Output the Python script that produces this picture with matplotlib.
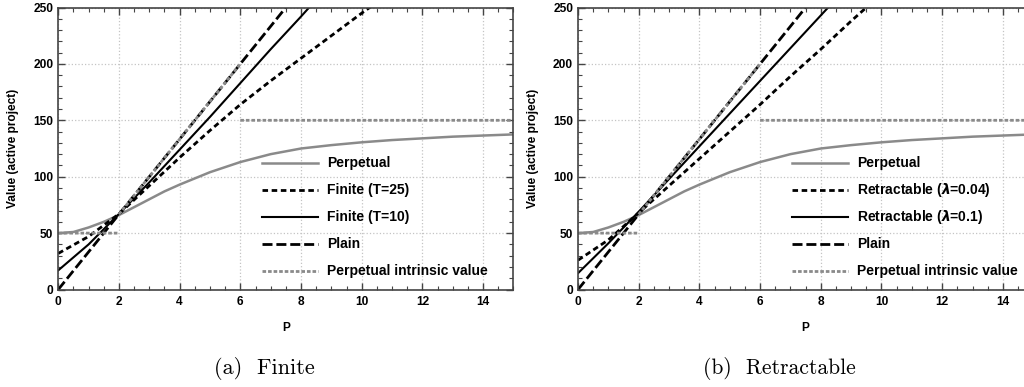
import matplotlib
matplotlib.use("Agg")
import matplotlib.pyplot as plt
from matplotlib.ticker import MultipleLocator
import numpy as np

plt.rcParams['font.family'] = ['Liberation Sans', 'DejaVu Sans']
plt.rcParams['font.weight'] = 'bold'
plt.rcParams['mathtext.fontset'] = 'custom'
plt.rcParams['mathtext.it'] = 'DejaVu Sans:italic'
plt.rcParams['mathtext.rm'] = 'Liberation Sans:bold'

# Perpetual option value (gray curve), same in both panels
perp_p = [0, 0.5, 1, 1.5, 2, 2.5, 3, 3.5, 4, 5, 6, 7, 8, 9, 10, 11, 12, 13, 14, 15]
perp_v = [50, 51, 55, 60, 66, 73, 80, 87, 93, 104, 113, 120, 125, 128, 130.5,
          132.5, 134, 135.5, 136.5, 137.5]

# Plain (NPV) line
plain_p = [0, 2, 4, 6, 8]
plain_v = [0, 66.7, 133.3, 200, 266.7]

# Perpetual intrinsic value, three pieces (nan breaks)
intr_p = [0, 2, np.nan, 2, 6, np.nan, 6, 15]
intr_v = [50, 50, np.nan, 66.7, 200, np.nan, 150, 150]

# panel (a): finite life
fin25_p = [0, 1, 2, 3, 4, 5, 6, 7, 8, 9, 10, 11]
fin25_v = [32, 47, 67, 92, 117, 141, 164, 185, 205, 225, 245, 264]
fin10_p = [0, 1, 2, 3, 4, 5, 6, 7, 8, 9]
fin10_v = [17, 40, 67, 95, 124, 153, 183, 213, 242, 272]

# panel (b): retractable
ret04_p = [0, 1, 2, 3, 4, 5, 6, 7, 8, 9, 10]
ret04_v = [26, 44, 68, 92, 116, 140, 164, 189, 213, 238, 262]
ret10_p = [0, 1, 2, 3, 4, 5, 6, 7, 8, 9]
ret10_v = [14.5, 41, 69, 98, 127, 156, 185, 214, 243, 272]

labels_a = ['Perpetual', 'Finite (T=25)', 'Finite (T=10)', 'Plain',
            'Perpetual intrinsic value']
labels_b = ['Perpetual', r'Retractable ($\lambda$=0.04)',
            r'Retractable ($\lambda$=0.1)', 'Plain', 'Perpetual intrinsic value']

GRAY = '#8a8a8a'


def draw_panel(ax, dot_p, dot_v, sol_p, sol_v, labels, leg_x):
    styles = [dict(color=GRAY, lw=1.8),
              dict(color='black', lw=2.0, dashes=(2, 1.3)),
              dict(color='black', lw=1.5),
              dict(color='black', lw=2.0, dashes=(3.6, 1.4)),
              dict(color=GRAY, lw=2.0, dashes=(1.3, 0.7))]
    series = [(perp_p, perp_v), (dot_p, dot_v), (sol_p, sol_v),
              (plain_p, plain_v), (intr_p, intr_v)]
    for (xs, ys), st in zip(series, styles):
        ax.plot(xs, ys, **st)

    ax.set_xlim(0, 15)
    ax.set_ylim(0, 250)
    ax.xaxis.set_major_locator(MultipleLocator(2))
    ax.xaxis.set_minor_locator(MultipleLocator(0.5))
    ax.yaxis.set_major_locator(MultipleLocator(50))
    ax.yaxis.set_minor_locator(MultipleLocator(10))
    ax.tick_params(which='both', direction='in', top=True, right=True,
                   color='#444444', labelsize=8.6)
    ax.tick_params(which='major', length=5, width=1)
    ax.tick_params(which='minor', length=3, width=0.8)
    ax.tick_params(axis='x', pad=5)
    for sp in ax.spines.values():
        sp.set_color('#444444')
        sp.set_linewidth(1.2)
    ax.grid(True, which='major', ls=':', color='#c4c4c4', lw=0.9)

    ax.set_xlabel('P', fontsize=8.6, fontweight='bold', labelpad=10)
    ax.set_ylabel('Value (active project)', fontsize=8.6, fontweight='bold', labelpad=10)

    # legend drawn row by row so the rows stay evenly spaced
    for i, (lab, st) in enumerate(zip(labels, styles)):
        y = 0.4486 - i * 0.0957
        ax.plot([leg_x, leg_x + 0.123], [y, y], transform=ax.transAxes,
                clip_on=False, **st)
        ax.text(leg_x + 0.143, y, lab, transform=ax.transAxes, fontsize=10,
                fontweight='bold', va='center', ha='left')


fig = plt.figure(figsize=(10.24, 3.87), dpi=100)
ax_a = fig.add_axes([0.0569, 0.2519, 0.4445, 0.7287])
ax_b = fig.add_axes([0.5645, 0.2519, 0.4445, 0.7287])

draw_panel(ax_a, fin25_p, fin25_v, fin10_p, fin10_v, labels_a, 0.4475)
draw_panel(ax_b, ret04_p, ret04_v, ret10_p, ret10_v, labels_b, 0.4701)

fig.text(264 / 1024, 1 - 369 / 387, '(a)  Finite', family='cmr10', fontsize=16,
         fontweight='normal', ha='center', va='center')
fig.text(779 / 1024, 1 - 369 / 387, '(b)  Retractable', family='cmr10', fontsize=15.5,
         fontweight='normal', ha='center', va='center')

fig.savefig('out.png', dpi=100)
